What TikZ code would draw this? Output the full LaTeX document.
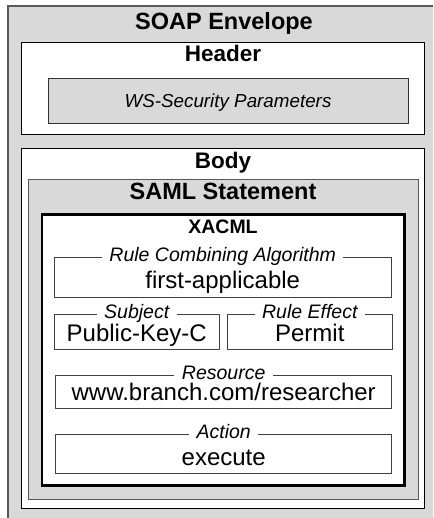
\documentclass[tikz,border=0pt]{standalone}
\usepackage{fontspec}
\setmainfont{Liberation Sans}

\begin{document}
\begin{tikzpicture}[x=1pt,y=-1pt,
  shade box/.style={fill=black!15,draw=black!65,line width=1.2pt},
  white box/.style={fill=white,draw=black,line width=0.8pt},
  field/.style={draw=black!75,line width=0.8pt},
  bigtitle/.style={font=\fontsize{23.5}{28}\selectfont\bfseries,anchor=base},
  midtitle/.style={font=\fontsize{22.5}{27}\selectfont\bfseries,anchor=base},
  legend/.style={font=\fontsize{19.5}{23}\selectfont\itshape,anchor=base,fill=white,inner xsep=7.5pt,inner ysep=1pt},
  value/.style={font=\fontsize{24}{29}\selectfont,anchor=base}]
\useasboundingbox (0,0) rectangle (433,518);
\clip (0,0) rectangle (433,518);
% envelope
\draw[shade box] (8,6) rectangle (440,530);
\node[bigtitle] (envelope) at (224,29.3) {SOAP Envelope};
% header
\draw[white box] (21.3,42) rectangle (424.7,134.3);
\node[midtitle] (header) at (223,61.7) {Header};
\draw[fill=black!15,draw=black!80,line width=0.8pt] (48.3,78.5) rectangle (408,123.7);
\node[font=\fontsize{18.8}{22}\selectfont\itshape,anchor=base] (wssec) at (228,108) {WS-Security Parameters};
% body
\draw[white box] (21.3,148.7) rectangle (424.7,508.7);
\node[midtitle] (body) at (223,168.3) {Body};
\draw[shade box] (28.7,179.3) rectangle (418.7,499.7);
\node[bigtitle] (saml) at (223,200) {SAML Statement};
\draw[fill=white,draw=black,line width=2.5pt] (42,214.3) rectangle (404.7,485.7);
\node[font=\fontsize{19.5}{23}\selectfont\bfseries,anchor=base] (xacml) at (223,233.3) {XACML};
% fields
\draw[field] (54.5,257.5) rectangle (391,297);
\node[legend] (algo) at (222.7,261.5) {Rule Combining Algorithm};
\node[value] (algoval) at (222.7,288) {first-applicable};
\draw[field] (54.3,314) rectangle (219,349.3);
\node[legend] (subject) at (136.7,318) {Subject};
\node[value] (subjectval) at (136.7,341.5) {Public-Key-C};
\draw[field] (227.7,314) rectangle (392,349.3);
\node[legend] (effect) at (309.8,318) {Rule Effect};
\node[value] (effectval) at (309.8,341.5) {Permit};
\draw[field] (55.7,375) rectangle (391.7,408.3);
\node[legend] (resource) at (223.7,379) {Resource};
\node[value] (resourceval) at (223.7,400.5) {www.branch.com/researcher};
\draw[field] (55.7,434.3) rectangle (391.7,473.5);
\node[legend] (action) at (223.7,438.3) {Action};
\node[value] (actionval) at (223.7,465.5) {execute};
\end{tikzpicture}
\end{document}
